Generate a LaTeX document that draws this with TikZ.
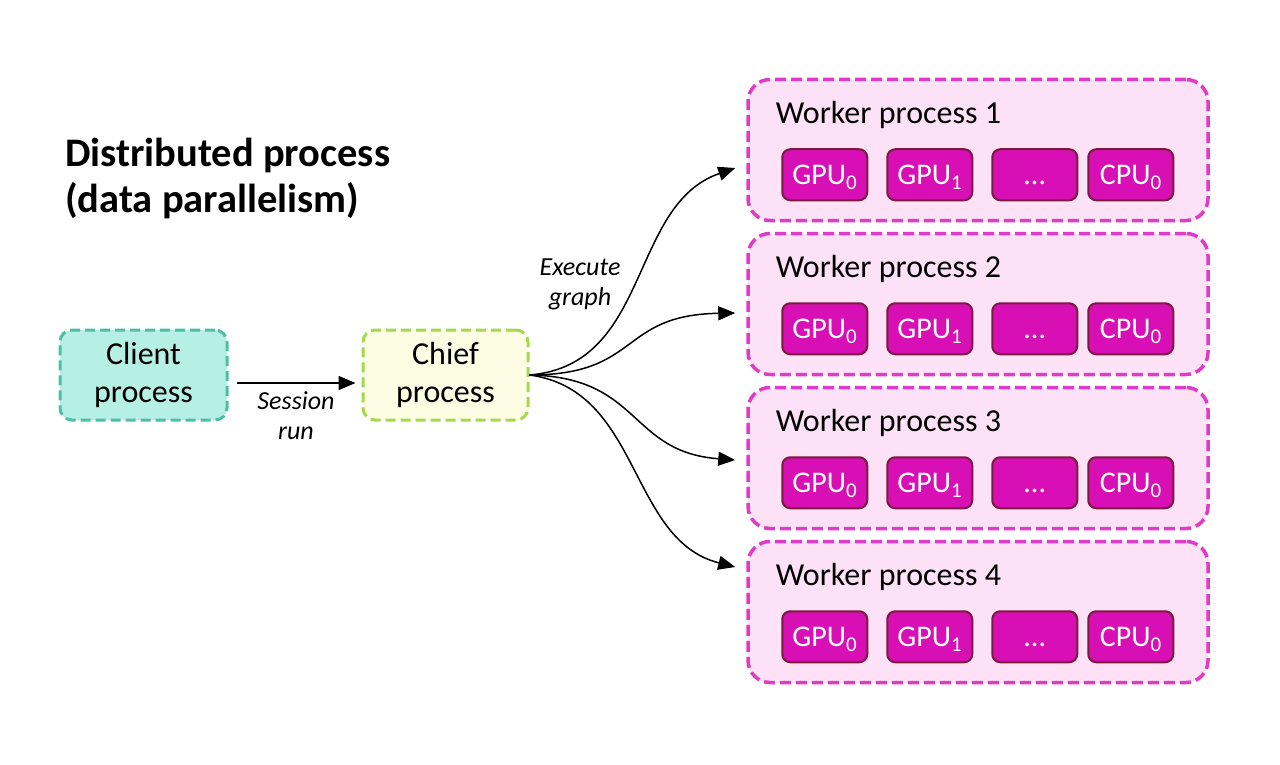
\documentclass[tikz,border=0pt]{standalone}
\usepackage{fontspec}
\setmainfont{Carlito}
\usetikzlibrary{arrows.meta, positioning}
\definecolor{clientfill}{HTML}{B6EFE4}
\definecolor{clientline}{HTML}{4DBFA6}
\definecolor{chieffill}{HTML}{FDFDE3}
\definecolor{chiefline}{HTML}{A6D84D}
\definecolor{workerfill}{HTML}{FDE1F6}
\definecolor{workerline}{HTML}{E03BC6}
\definecolor{devfill}{HTML}{D80FB4}
\definecolor{devline}{HTML}{7B1A3D}
\tikzset{
  procbox/.style={draw, line width=3pt, dash pattern=on 10pt off 5pt, rounded corners=12pt,
    minimum width=167pt, minimum height=90pt, align=center, font=\fontsize{32}{38}\selectfont},
  workerbox/.style={draw=workerline, fill=workerfill, line width=3.5pt, dash pattern=on 11pt off 5pt,
    rounded corners=22pt, minimum width=460pt, minimum height=141pt},
  devbox/.style={draw=devline, fill=devfill, line width=2pt, rounded corners=8pt,
    minimum width=85pt, minimum height=51pt, text height=19pt, text depth=0pt,
    text=white, font=\fontsize{30}{32}\selectfont},
  flow/.style={-{Triangle[length=17pt,width=14pt]}, line width=1.5pt},
  flowlabel/.style={align=center, font=\itshape\fontsize{26}{30}\selectfont},
}
\begin{document}
\begin{tikzpicture}[x=1pt, y=-1pt]
  \useasboundingbox (0,0) rectangle (1280,765);
  % title
  \node[anchor=north west, inner sep=0pt, align=left, font=\bfseries\fontsize{40.5}{46}\selectfont]
        (title) at (65,138) {Distributed process\\(data parallelism)};

  % client and chief
  \node[procbox, draw=clientline, fill=clientfill] (client) at (143.5,375) {Client\\process};
  \node[procbox, draw=chiefline, fill=chieffill, minimum width=165pt] (chief) at (445.5,375) {Chief\\process};
  \draw[flow] ([shift={(8,8)}]client.east) -- node[below=5pt, flowlabel] (session) {Session\\run}
        ([shift={(-6,8)}]chief.west);

  % workers
  \foreach \i in {1,...,4} {
    \node[workerbox] (w\i) at (978, {150+154*(\i-1)}) {};
    \node[anchor=base west, font=\fontsize{32}{36}\selectfont] (wt\i)
          at ([shift={(26,46)}]w\i.north west) {Worker process \i};
    \node[devbox, anchor=west] (gpua\i) at ([shift={(35,97)}]w\i.north west) {GPU\textsubscript{0}};
    \node[devbox, right=18pt of gpua\i] (gpub\i) {GPU\textsubscript{1}};
    \node[devbox, right=18pt of gpub\i] (dots\i) {...};
    \node[devbox, right=9pt of dots\i] (cpu\i) {CPU\textsubscript{0}};
  }

  % chief to workers
  \foreach \i/\dy/\ca/\cb in {1/18/{122,-10}/{-107,37}, 2/9/{112,0}/{-117,2},
                              3/2/{112,2}/{-107,-8}, 4/-45/{112,15}/{-107,-27}} {
    \draw[flow] (chief.east) .. controls +(\ca) and +(\cb) .. ([shift={(-11,\dy)}]w\i.west);
  }
  \node[flowlabel] (execute) at (580,284) {Execute\\graph};
\end{tikzpicture}
\end{document}
